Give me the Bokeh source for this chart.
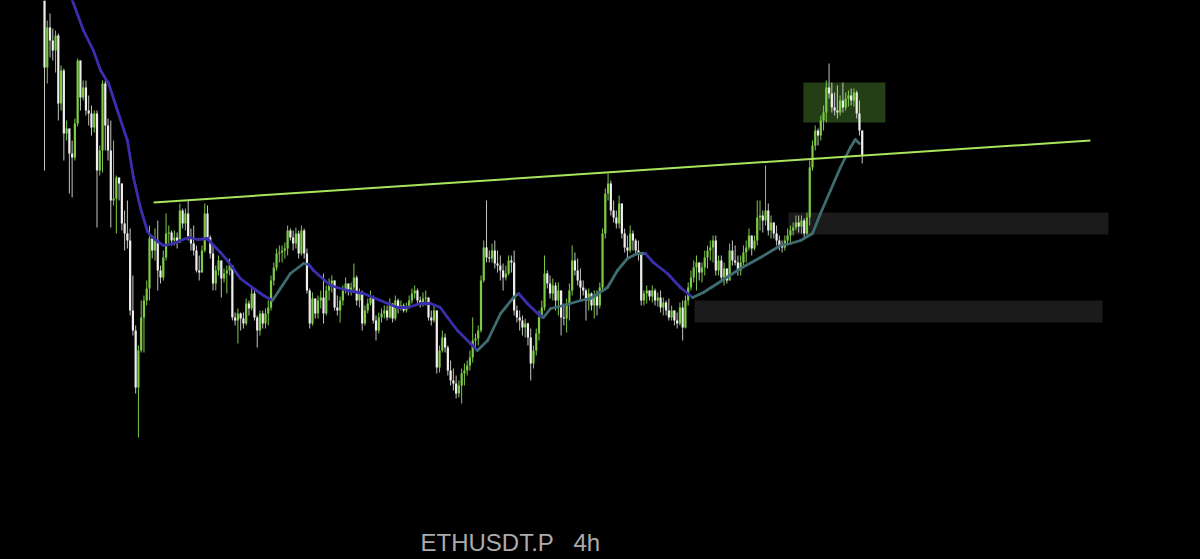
from bokeh.plotting import figure
from bokeh.models import Range1d, ColumnDataSource, Label
from bokeh.embed import file_html
from bokeh.resources import INLINE

# ---------------- data (price units) ----------------
first_open = 500
closes = [
    433, 473, 460, 450, 465, 397, 430, 367, 372, 347,
    343, 377, 440, 403, 413, 390, 387, 373, 387, 330,
    350, 417, 375, 350, 300, 302, 323, 317, 277, 267,
    260, 190, 170, 113, 150, 183, 200, 212, 262, 250,
    260, 230, 223, 243, 267, 268, 260, 263, 258, 290,
    277, 287, 263, 257, 250, 230, 228, 250, 287, 263,
    247, 217, 230, 240, 222, 227, 230, 235, 183, 180,
    187, 182, 177, 197, 192, 207, 183, 170, 187, 177,
    187, 193, 220, 233, 247, 248, 250, 252, 270, 263,
    257, 267, 247, 270, 247, 210, 177, 202, 187, 200,
    203, 187, 210, 217, 220, 193, 190, 200, 210, 217,
    210, 213, 223, 200, 207, 177, 190, 197, 203, 180,
    170, 183, 187, 190, 183, 197, 182, 200, 193, 195,
    190, 194, 200, 207, 210, 200, 197, 202, 203, 183,
    180, 190, 133, 150, 163, 153, 130, 120, 117, 107,
    115, 127, 130, 135, 143, 160, 162, 170, 220, 253,
    243, 242, 250, 237, 235, 230, 223, 227, 240, 238,
    190, 183, 180, 173, 177, 163, 137, 150, 167, 183,
    193, 227, 217, 207, 215, 200, 210, 183, 182, 197,
    210, 240, 230, 220, 213, 210, 200, 207, 195, 204,
    195, 213, 267, 307, 317, 290, 283, 277, 297, 267,
    253, 250, 267, 260, 250, 247, 200, 207, 210, 204,
    210, 200, 203, 193, 198, 190, 183, 190, 180, 177,
    193, 173, 200, 213, 223, 233, 238, 228, 233, 243,
    250, 253, 260, 230, 240, 223, 232, 220, 250, 240,
    238, 230, 238, 248, 253, 265, 252, 260, 283, 285,
    280, 290, 270, 278, 267, 260, 255, 253, 260, 265,
    270, 273, 278, 274, 280, 267, 283, 333, 355, 370,
    365, 380, 388, 413, 407, 393, 390, 388, 400, 393,
    402, 405, 400, 408, 387, 370, 345,
]
highs = [
    500, 480, 487, 472, 470, 467, 435, 432, 380, 372,
    360, 382, 442, 437, 420, 420, 405, 395, 390, 390,
    355, 420, 420, 382, 380, 360, 325, 322, 317, 290,
    300, 272, 225, 175, 155, 200, 205, 220, 275, 265,
    272, 280, 235, 250, 287, 275, 270, 270, 268, 297,
    292, 292, 300, 272, 275, 255, 245, 255, 297, 295,
    265, 255, 235, 245, 240, 232, 235, 242, 230, 188,
    192, 188, 188, 202, 200, 215, 210, 185, 190, 190,
    192, 200, 225, 238, 252, 255, 255, 258, 275, 272,
    270, 273, 270, 275, 272, 252, 212, 208, 200, 205,
    210, 227, 215, 222, 225, 218, 205, 204, 215, 223,
    217, 218, 237, 225, 212, 210, 195, 202, 210, 205,
    185, 188, 192, 195, 195, 202, 195, 205, 202, 200,
    197, 198, 205, 212, 215, 212, 204, 208, 210, 203,
    190, 195, 190, 155, 170, 167, 155, 140, 132, 125,
    120, 132, 137, 140, 150, 183, 167, 175, 225, 260,
    300, 250, 257, 260, 250, 245, 237, 235, 245, 245,
    250, 195, 190, 185, 182, 178, 172, 155, 172, 190,
    200, 245, 230, 225, 222, 218, 218, 205, 197, 202,
    217, 255, 248, 242, 232, 220, 212, 212, 208, 210,
    210, 218, 272, 312, 327, 320, 300, 290, 305, 295,
    272, 265, 275, 270, 262, 260, 245, 210, 215, 210,
    215, 212, 208, 210, 203, 200, 202, 195, 190, 188,
    198, 200, 205, 218, 230, 240, 245, 238, 238, 250,
    255, 260, 265, 265, 245, 245, 238, 230, 257, 260,
    255, 245, 245, 255, 260, 272, 262, 265, 300, 300,
    290, 335, 297, 285, 278, 275, 265, 260, 265, 272,
    275, 278, 285, 285, 285, 282, 288, 340, 360, 375,
    372, 385, 395, 420, 437, 418, 408, 415, 405, 418,
    408, 410, 412, 412, 410, 400, 370,
]
lows = [
    330, 417, 443, 440, 428, 380, 390, 340, 360, 307,
    303, 340, 374, 390, 400, 385, 375, 365, 368, 273,
    325, 328, 350, 340, 273, 295, 267, 300, 270, 250,
    252, 185, 165, 107, 63, 148, 148, 195, 200, 242,
    240, 210, 217, 220, 240, 255, 255, 255, 252, 260,
    272, 270, 260, 250, 245, 228, 220, 228, 248, 260,
    242, 210, 210, 225, 203, 218, 207, 225, 180, 175,
    157, 170, 172, 175, 185, 190, 180, 153, 165, 172,
    172, 175, 190, 215, 230, 238, 238, 242, 245, 260,
    250, 252, 242, 245, 242, 207, 172, 175, 182, 182,
    192, 177, 185, 200, 208, 190, 185, 178, 195, 207,
    205, 205, 208, 195, 193, 170, 175, 187, 195, 177,
    160, 167, 178, 182, 180, 182, 178, 180, 187, 190,
    188, 188, 192, 197, 202, 195, 193, 194, 195, 180,
    175, 178, 127, 128, 148, 148, 125, 115, 110, 102,
    103, 97, 115, 125, 130, 138, 150, 155, 168, 218,
    238, 238, 238, 232, 228, 220, 210, 220, 225, 228,
    185, 178, 170, 165, 163, 155, 120, 132, 145, 160,
    182, 190, 212, 202, 200, 190, 185, 165, 175, 168,
    180, 205, 225, 215, 200, 205, 180, 190, 190, 182,
    185, 192, 210, 262, 300, 285, 278, 272, 272, 262,
    248, 242, 248, 250, 245, 240, 195, 195, 197, 200,
    198, 195, 194, 188, 185, 185, 180, 180, 175, 172,
    175, 160, 172, 195, 210, 218, 210, 220, 218, 225,
    232, 240, 238, 225, 225, 220, 215, 217, 220, 235,
    235, 225, 225, 235, 238, 250, 245, 250, 255, 270,
    268, 275, 265, 262, 262, 255, 250, 248, 250, 255,
    258, 265, 270, 268, 267, 262, 264, 275, 330, 350,
    355, 360, 370, 378, 402, 388, 385, 382, 385, 388,
    390, 394, 395, 394, 382, 365, 337,
]

# moving average (candle index, price)
ma_idx = [7.2, 10.1, 14.1, 17.7, 20.3, 23.2, 26.4, 30.0, 32.2, 34.7,
          37.3, 38.4, 40.9, 43.1, 46.7, 49.2, 52.1, 55.4, 59.0, 61.2,
          63.7, 66.2, 70.9, 75.7, 79.3, 82.5, 85.4, 89.0, 93.8, 95.6,
          97.4, 103.5, 109.7, 115.5, 121.6, 127.8, 131.4, 136.1, 139.7, 143.3,
          145.9, 149.5, 154.2, 156.7, 160.4, 165.1, 169.8, 171.6, 174.8, 178.5,
          180.6, 183.2, 187.9, 194.0, 197.6, 203.8, 207.4, 211.0, 214.6, 217.5,
          220.4, 225.5, 230.2, 234.6, 238.5, 243.6, 251.9, 259.2, 266.4, 270.0,
          273.7, 278.0, 280.9, 284.5, 288.1, 291.7, 293.5, 295.0]
ma_val = [530, 500, 470, 450, 430, 417, 390, 360, 323, 293,
          269, 265, 259, 255, 257, 260, 263, 261, 262, 255,
          248, 240, 222, 212, 205, 200, 212, 227, 237, 236,
          230, 215, 210, 207, 200, 193, 193, 197, 197, 193,
          183, 170, 157, 150, 160, 187, 203, 207, 197, 187,
          183, 192, 195, 200, 202, 213, 230, 242, 247, 247,
          238, 227, 213, 203, 208, 217, 232, 243, 255, 257,
          260, 267, 287, 310, 333, 353, 361, 357]
ma_trend_runs = [("down", 25), ("up", 4), ("down", 14), ("up", 4),
                 ("down", 3), ("up", 9), ("down", 4), ("up", 14)]

# annotations
trend_x = [39.5, 378.6]
trend_y = [298, 360]
zone_left = [235.3, 269.3, 274.7]
zone_right = [383.0, 385.1, 304.4]
zone_bottom = [178, 266, 378]
zone_top = [200, 288, 418]
zone_color = ["#1b1b1b", "#1b1b1b", "#243f16"]

symbol = "ETHUSDT.P"
interval = "4h"

# ---------------- build ----------------
GREEN = "#7dca47"
WHITE = "#eeeeee"

n = len(closes)
opens = [first_open] + closes[:-1]
idx = list(range(n))
up = [c >= o for o, c in zip(opens, closes)]
src = ColumnDataSource(dict(
    x=idx,
    top=[max(o, c) for o, c in zip(opens, closes)],
    bottom=[min(o, c) for o, c in zip(opens, closes)],
    high=[max(h, o, c) for h, o, c in zip(highs, opens, closes)],
    low=[min(l, o, c) for l, o, c in zip(lows, opens, closes)],
    color=[GREEN if u else WHITE for u in up],
    wick=[GREEN if u else "#c4c4c4" for u in up],
))

p = figure(width=1200, height=559, output_backend="svg", toolbar_location=None,
           x_range=Range1d(-15.93, 418.45), y_range=Range1d(-59, 500),
           min_border=0, background_fill_color="#000000",
           border_fill_color="#000000")
p.axis.visible = False
p.grid.visible = False
p.outline_line_color = None

p.quad(left=zone_left, right=zone_right, bottom=zone_bottom, top=zone_top,
       color=zone_color, line_color=None)

p.segment(x0="x", y0="high", x1="x", y1="low", color="wick", line_width=1,
          source=src)
p.vbar(x="x", width=0.8, top="top", bottom="bottom", fill_color="color",
       line_color=None, source=src)

# moving average, coloured by trend
seg_colors = []
for lab, cnt in ma_trend_runs:
    seg_colors += [("#3b2fae" if lab == "down" else "#3e6c70")] * cnt
p.segment(x0=ma_idx[:-1], y0=ma_val[:-1], x1=ma_idx[1:], y1=ma_val[1:],
          color=seg_colors, line_width=2.8, line_cap="round")

p.line(trend_x, trend_y, color="#a9e65c", line_width=2)

p.add_layout(Label(x=420, y=17, x_units="screen", y_units="screen", text=symbol,
                   text_font="Liberation Sans", text_font_size="24px",
                   text_color="#ababab", text_baseline="alphabetic"))
p.add_layout(Label(x=573, y=17, x_units="screen", y_units="screen", text=interval,
                   text_font="Liberation Sans", text_font_size="24px",
                   text_color="#ababab", text_baseline="alphabetic"))

html = file_html(p, INLINE, title="ETHUSDT.P 4h")
html = html.replace("<head>", "<head><style>html,body{background:#000;}</style>", 1)
open("out.html", "w").write(html)
